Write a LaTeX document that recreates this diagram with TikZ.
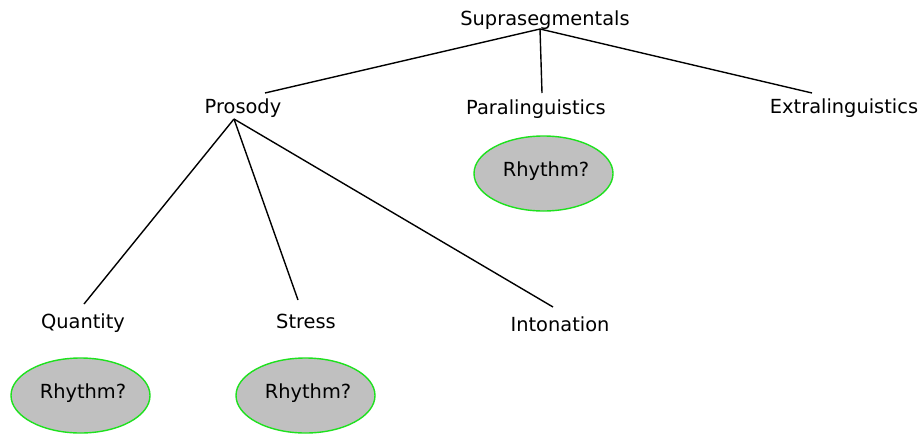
\documentclass[tikz,border=0pt]{standalone}
\usepackage{fontspec}
\setmainfont{DejaVu Sans}
\usetikzlibrary{shapes.geometric}
\definecolor{rimgreen}{RGB}{30,225,30}
\definecolor{bubblegray}{RGB}{192,192,192}
\tikzset{
  term/.style={anchor=base, inner sep=0pt, font=\fontsize{19.4}{23}\selectfont},
  bubble/.style={ellipse, draw=rimgreen, fill=bubblegray, line width=1.4pt,
    minimum width=139pt, minimum height=75pt, inner sep=0pt,
    font=\fontsize{19.4}{23}\selectfont},
  branch/.style={line width=1.4pt, black},
}
\begin{document}
\begin{tikzpicture}[x=1pt, y=-1pt]
  \useasboundingbox (0,0) rectangle (920,434);

  % labels of the tree
  \node[term] (supra) at (545,25) {Suprasegmentals};
  \node[term] (prosody) at (243,113) {Prosody};
  \node[term] (para) at (536,114) {Paralinguistics};
  \node[term] (extra) at (844,113) {Extralinguistics};
  \node[term] (quantity) at (83,328) {Quantity};
  \node[term] (stress) at (306,328) {Stress};
  \node[term] (inton) at (560,331) {Intonation};

  % open questions
  \node[bubble] (rh-para) at (543.5,173.5) {};
  \node[bubble] (rh-quant) at (80.5,395.5) {};
  \node[bubble] (rh-stress) at (305.5,395.5) {};
  \node[term] (rh-para-text) at (546,176) {Rhythm?};
  \node[term] (rh-quant-text) at (83,398) {Rhythm?};
  \node[term] (rh-stress-text) at (308,398) {Rhythm?};

  % branch points and branch ends
  \coordinate (supra-root) at (540,29);
  \coordinate (prosody-top) at (265,93);
  \coordinate (para-top) at (542,93);
  \coordinate (extra-top) at (812,93);
  \coordinate (prosody-root) at (234,119);
  \coordinate (quantity-top) at (84,304);
  \coordinate (stress-top) at (298,300);
  \coordinate (inton-top) at (553,307);

  \draw[branch] (supra-root) -- (prosody-top);
  \draw[branch] (supra-root) -- (para-top);
  \draw[branch] (supra-root) -- (extra-top);
  \draw[branch] (prosody-root) -- (quantity-top);
  \draw[branch] (prosody-root) -- (stress-top);
  \draw[branch] (prosody-root) -- (inton-top);
\end{tikzpicture}
\end{document}
